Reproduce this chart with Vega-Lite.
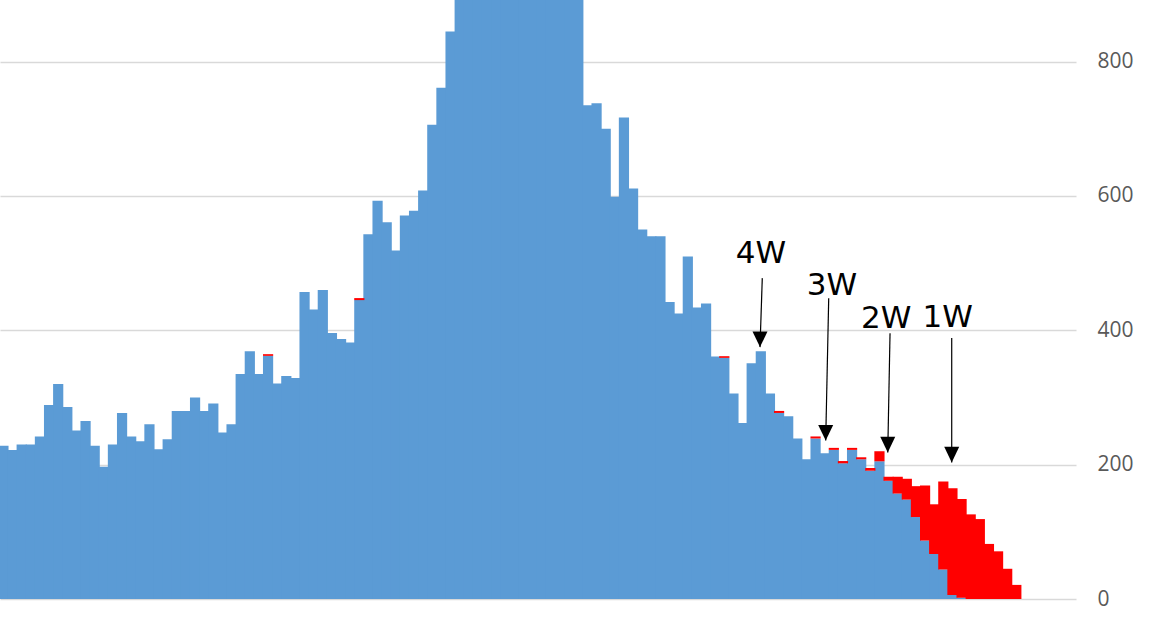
{
  "$schema": "https://vega.github.io/schema/vega-lite/v6.json",
  "width": 1076,
  "height": 599,
  "autosize": {"type": "none"},
  "padding": {"left": 0, "top": 0, "right": 75, "bottom": 42},
  "background": "white",
  "config": {"view": {"stroke": null}},
  "datasets": {
    "counts": [
      {"day":0,"series":"reported","count":228},{"day":1,"series":"reported","count":222},{"day":2,"series":"reported","count":230},{"day":3,"series":"reported","count":230},
      {"day":4,"series":"reported","count":242},{"day":5,"series":"reported","count":289},{"day":6,"series":"reported","count":320},{"day":7,"series":"reported","count":286},
      {"day":8,"series":"reported","count":251},{"day":9,"series":"reported","count":265},{"day":10,"series":"reported","count":228},{"day":11,"series":"reported","count":197},
      {"day":12,"series":"reported","count":230},{"day":13,"series":"reported","count":277},{"day":14,"series":"reported","count":242},{"day":15,"series":"reported","count":235},
      {"day":16,"series":"reported","count":260},{"day":17,"series":"reported","count":223},{"day":18,"series":"reported","count":238},{"day":19,"series":"reported","count":280},
      {"day":20,"series":"reported","count":280},{"day":21,"series":"reported","count":300},{"day":22,"series":"reported","count":280},{"day":23,"series":"reported","count":291},
      {"day":24,"series":"reported","count":248},{"day":25,"series":"reported","count":260},{"day":26,"series":"reported","count":335},{"day":27,"series":"reported","count":369},
      {"day":28,"series":"reported","count":335},{"day":29,"series":"reported","count":362},{"day":30,"series":"reported","count":321},{"day":31,"series":"reported","count":332},
      {"day":32,"series":"reported","count":329},{"day":33,"series":"reported","count":457},{"day":34,"series":"reported","count":431},{"day":35,"series":"reported","count":460},
      {"day":36,"series":"reported","count":396},{"day":37,"series":"reported","count":387},{"day":38,"series":"reported","count":382},{"day":39,"series":"reported","count":445},
      {"day":40,"series":"reported","count":543},{"day":41,"series":"reported","count":593},{"day":42,"series":"reported","count":561},{"day":43,"series":"reported","count":519},
      {"day":44,"series":"reported","count":571},{"day":45,"series":"reported","count":578},{"day":46,"series":"reported","count":608},{"day":47,"series":"reported","count":706},
      {"day":48,"series":"reported","count":761},{"day":49,"series":"reported","count":845},{"day":50,"series":"reported","count":930},{"day":51,"series":"reported","count":990},
      {"day":52,"series":"reported","count":1040},{"day":53,"series":"reported","count":1090},{"day":54,"series":"reported","count":1130},{"day":55,"series":"reported","count":1160},
      {"day":56,"series":"reported","count":1180},{"day":57,"series":"reported","count":1170},{"day":58,"series":"reported","count":1140},{"day":59,"series":"reported","count":1100},
      {"day":60,"series":"reported","count":1050},{"day":61,"series":"reported","count":1000},{"day":62,"series":"reported","count":960},{"day":63,"series":"reported","count":920},
      {"day":64,"series":"reported","count":735},{"day":65,"series":"reported","count":738},{"day":66,"series":"reported","count":700},{"day":67,"series":"reported","count":599},
      {"day":68,"series":"reported","count":717},{"day":69,"series":"reported","count":611},{"day":70,"series":"reported","count":550},{"day":71,"series":"reported","count":540},
      {"day":72,"series":"reported","count":540},{"day":73,"series":"reported","count":442},{"day":74,"series":"reported","count":425},{"day":75,"series":"reported","count":510},
      {"day":76,"series":"reported","count":434},{"day":77,"series":"reported","count":440},{"day":78,"series":"reported","count":361},{"day":79,"series":"reported","count":359},
      {"day":80,"series":"reported","count":306},{"day":81,"series":"reported","count":262},{"day":82,"series":"reported","count":351},{"day":83,"series":"reported","count":369},
      {"day":84,"series":"reported","count":306},{"day":85,"series":"reported","count":277},{"day":86,"series":"reported","count":272},{"day":87,"series":"reported","count":239},
      {"day":88,"series":"reported","count":208},{"day":89,"series":"reported","count":239},{"day":90,"series":"reported","count":217},{"day":91,"series":"reported","count":222},
      {"day":92,"series":"reported","count":202},{"day":93,"series":"reported","count":222},{"day":94,"series":"reported","count":208},{"day":95,"series":"reported","count":191},
      {"day":96,"series":"reported","count":205},{"day":97,"series":"reported","count":176},{"day":98,"series":"reported","count":157},{"day":99,"series":"reported","count":148},
      {"day":100,"series":"reported","count":122},{"day":101,"series":"reported","count":87},{"day":102,"series":"reported","count":67},{"day":103,"series":"reported","count":44},
      {"day":104,"series":"reported","count":6},{"day":105,"series":"reported","count":2},
      {"day":29,"series":"added","count":2.5},{"day":39,"series":"added","count":3},{"day":79,"series":"added","count":2.5},{"day":85,"series":"added","count":3},
      {"day":89,"series":"added","count":3},{"day":91,"series":"added","count":3},{"day":92,"series":"added","count":3.4},{"day":93,"series":"added","count":3},
      {"day":94,"series":"added","count":3},{"day":95,"series":"added","count":4},{"day":96,"series":"added","count":15},{"day":97,"series":"added","count":6},
      {"day":98,"series":"added","count":25},{"day":99,"series":"added","count":31},{"day":100,"series":"added","count":46},{"day":101,"series":"added","count":82},
      {"day":102,"series":"added","count":74},{"day":103,"series":"added","count":131},{"day":104,"series":"added","count":159},{"day":105,"series":"added","count":147},
      {"day":106,"series":"added","count":126},{"day":107,"series":"added","count":119},{"day":108,"series":"added","count":82},{"day":109,"series":"added","count":71},
      {"day":110,"series":"added","count":45},{"day":111,"series":"added","count":21}
    ],
    "notes": [
      {"label":"4W","tx":83.02,"ty":500.0,"x1":83.16,"y1":477.7,"x2":82.91,"y2":375.0},
      {"label":"3W","tx":90.80,"ty":452.8,"x1":90.44,"y1":447.9,"x2":90.11,"y2":236.0},
      {"label":"2W","tx":96.74,"ty":404.2,"x1":97.16,"y1":395.8,"x2":96.91,"y2":218.2},
      {"label":"1W","tx":103.49,"ty":405.7,"x1":103.92,"y1":388.4,"x2":103.92,"y2":203.3}
    ]
  },
  "layer": [
    {
      "data": {"name": "counts"},
      "mark": {"type": "bar", "width": 10.2, "clip": true},
      "encoding": {
        "x": {"field": "day", "type": "quantitative", "scale": {"domain": [-0.377, 117.54], "nice": false, "zero": false, "padding": 0}, "axis": null},
        "y": {"field": "count", "type": "quantitative", "stack": "zero",
              "scale": {"domain": [0, 891.8], "nice": false},
              "axis": {"orient": "right", "values": [0, 200, 400, 600, 800], "grid": true, "gridColor": "#d9d9d9", "gridWidth": 1.5,
                       "domain": false, "ticks": false, "labelPadding": 21, "labelFont": "Open Sans", "labelFontSize": 21,
                       "labelColor": "#595959", "title": null}},
        "color": {"field": "series", "type": "nominal", "scale": {"domain": ["reported", "added"], "range": ["#5B9BD5", "#FF0000"]}, "legend": null},
        "order": {"field": "series", "sort": "descending"}
      }
    },
    {
      "data": {"name": "notes"},
      "mark": {"type": "rule", "color": "#000000", "strokeWidth": 1.2},
      "encoding": {
        "x": {"field": "x1", "type": "quantitative"},
        "y": {"field": "y1", "type": "quantitative"},
        "x2": {"field": "x2"},
        "y2": {"field": "y2"}
      }
    },
    {
      "data": {"name": "notes"},
      "mark": {"type": "point", "shape": "M0,0L-1,-2.08L1,-2.08Z", "size": 225, "filled": true, "color": "#000000", "opacity": 1},
      "encoding": {
        "x": {"field": "x2", "type": "quantitative"},
        "y": {"field": "y2", "type": "quantitative"}
      }
    },
    {
      "data": {"name": "notes"},
      "mark": {"type": "text", "font": "DejaVu Sans", "fontSize": 31, "color": "#000000", "align": "center", "baseline": "alphabetic"},
      "encoding": {
        "x": {"field": "tx", "type": "quantitative"},
        "y": {"field": "ty", "type": "quantitative"},
        "text": {"field": "label"}
      }
    }
  ]
}
